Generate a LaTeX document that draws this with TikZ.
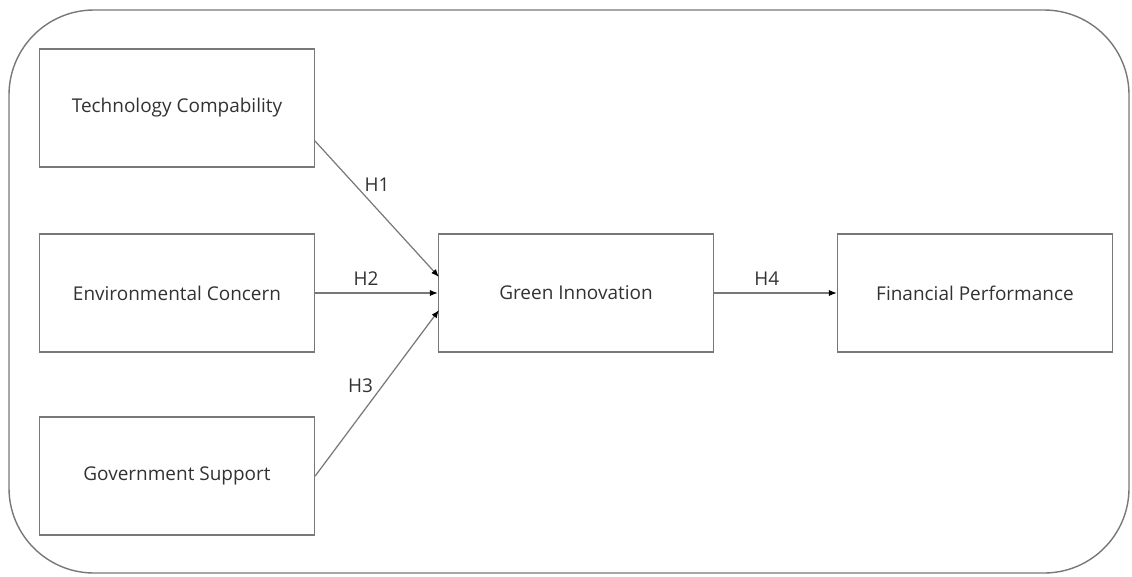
\documentclass[tikz,border=0pt]{standalone}
\usepackage{fontspec}
\setmainfont{Open Sans}
\usetikzlibrary{arrows.meta}
\definecolor{edge}{RGB}{120,120,120}
\definecolor{ink}{RGB}{50,50,50}

\begin{document}
\begin{tikzpicture}[x=0.02cm, y=-0.02cm,
	box/.style={draw=edge, line width=0.8pt, minimum width=5.5cm, minimum height=2.36cm, text=ink, font=\fontsize{10.8}{13}\selectfont},
	link/.style={draw=edge, line width=0.7pt, -{Latex[length=4.5pt,width=3.5pt,color=black]}},
	hyp/.style={text=ink, font=\fontsize{10.8}{13}\selectfont, inner sep=1pt}]
	\useasboundingbox (0,0) rectangle (1132,576);
	\draw[edge, line width=0.8pt, rounded corners=1.7cm] (9,10) rectangle (1129,573);
	% constructs
	\node[box] (tech) at (177,108) {Technology Compability};
	\node[box] (env) at (177,293) {Environmental Concern};
	\node[box] (gov) at (177,476) {Government Support};
	\node[box] (green) at (576,293) {Green Innovation};
	\node[box] (fin) at (975,293) {Financial Performance};
	% arrow ends
	\coordinate (h1s) at (315,141);
	\coordinate (h1e) at (439,277);
	\coordinate (h3e) at (439,310);
	% hypotheses
	\draw[link] (h1s) -- node[hyp, midway, above=0.3cm] {H1} (h1e);
	\draw[link] (env) -- node[hyp, midway, above=3pt, xshift=-6pt] {H2} (green);
	\draw[link] (gov.east) -- node[hyp, midway, anchor=south east, xshift=-1pt, yshift=-1pt] {H3} (h3e);
	\draw[link] (green) -- node[hyp, midway, above=3pt, xshift=-5pt] {H4} (fin);
\end{tikzpicture}
\end{document}
